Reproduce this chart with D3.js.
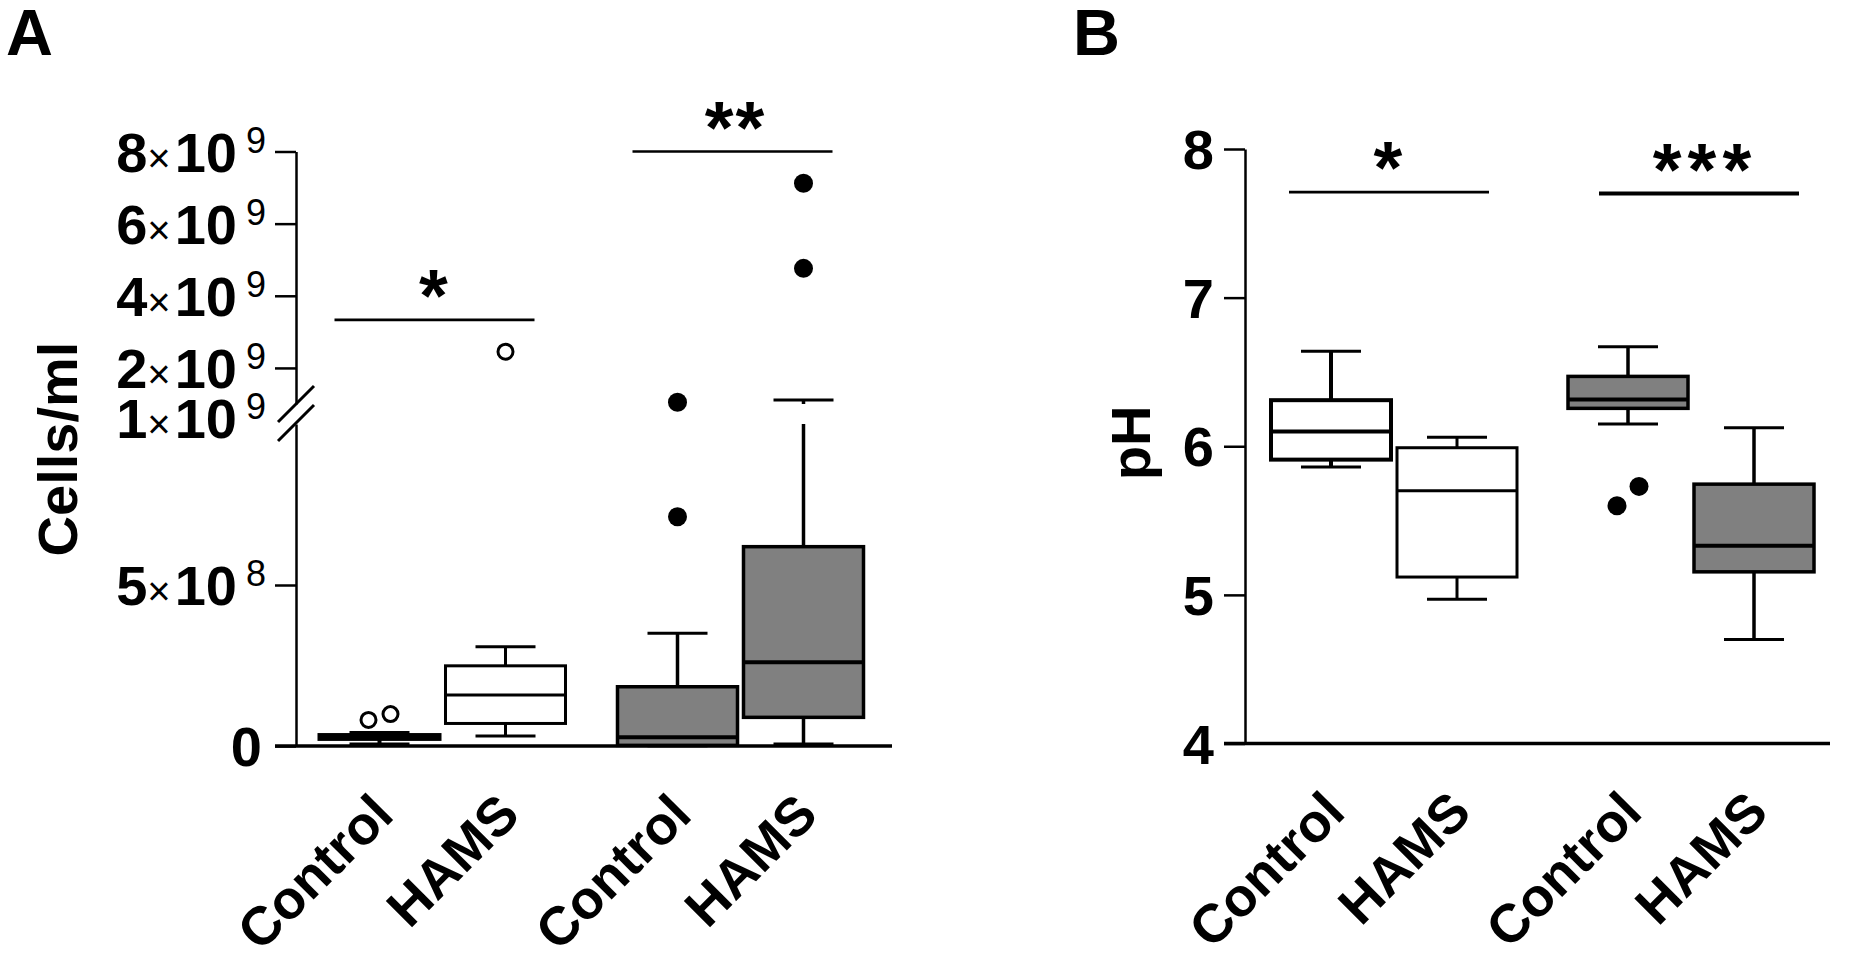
<!DOCTYPE html>
<html>
<head>
<meta charset="utf-8">
<script src="https://cdn.jsdelivr.net/npm/d3@7"></script>
<style>
  body { margin: 0; background: #fff; }
  svg { font-family: "Liberation Sans", Arial, sans-serif; }
</style>
</head>
<body>
<div id="chart"></div>
<script>
const width = 1854
const height = 958

const groups = ["g1", "g2"]
const treatments = ["Control", "HAMS"]

// panel A: cells/ml box summaries
const cellsBoxes = [
  {group: "g1", treatment: "Control", min: 6e6, q1: 2.2e7, median: 2.8e7, q3: 3.4e7, max: 4.2e7},
  {group: "g1", treatment: "HAMS", min: 3.1e7, q1: 7.0e7, median: 1.58e8, q3: 2.49e8, max: 3.08e8},
  {group: "g2", treatment: "Control", min: 1e6, q1: 2e6, median: 2.7e7, q3: 1.84e8, max: 3.5e8},
  {group: "g2", treatment: "HAMS", min: 6e6, q1: 8.9e7, median: 2.6e8, q3: 6.19e8, max: 1.11e9}
]
const cellsOutliers = [
  {group: "g1", treatment: "Control", values: [8.1e7, 9.9e7]},
  {group: "g1", treatment: "HAMS", values: [2.45e9]},
  {group: "g2", treatment: "Control", values: [7.12e8, 1.05e9]},
  {group: "g2", treatment: "HAMS", values: [4.76e9, 7.12e9]}
]
const cellsSig = [
  {group: "g1", label: "*", value: 3.33e9},
  {group: "g2", label: "**", value: 8e9}
]
const cellsBreak = 1e9
const cellsTicksLow = [0, 5e8, 1e9]
const cellsTicksHigh = [2e9, 4e9, 6e9, 8e9]

// panel B: pH box summaries
const phBoxes = [
  {group: "g1", treatment: "Control", min: 5.86, q1: 5.91, median: 6.10, q3: 6.31, max: 6.64},
  {group: "g1", treatment: "HAMS", min: 4.97, q1: 5.12, median: 5.70, q3: 5.99, max: 6.06},
  {group: "g2", treatment: "Control", min: 6.15, q1: 6.255, median: 6.315, q3: 6.47, max: 6.67},
  {group: "g2", treatment: "HAMS", min: 4.70, q1: 5.155, median: 5.33, q3: 5.745, max: 6.125}
]
const phOutliers = [
  {group: "g2", treatment: "Control", values: [5.60, 5.73]}
]
const phSig = [
  {group: "g1", label: "*", value: 7.71},
  {group: "g2", label: "***", value: 7.70}
]
const phTicks = [4, 5, 6, 7, 8]

const groupFill = {g1: "#ffffff", g2: "#808080"}

const svg = d3.select("#chart").append("svg")
  .attr("width", width)
  .attr("height", height)
  .attr("viewBox", [0, 0, width, height])

const inner = d3.scaleBand().domain(treatments).range([-126, 126])
const boxW = 120
const capW = 60
const tickLen = 21
const starSize = 74

// superscript tick label like 8×10^9
function sciLabel(sel, v) {
  if (v === 0) { sel.append("tspan").text("0"); return }
  const e = Math.floor(Math.log10(v))
  const m = Math.round(v / Math.pow(10, e))
  sel.append("tspan").text(m)
  sel.append("tspan").attr("font-weight", "normal").attr("font-size", 40).text("\u00d7")
  sel.append("tspan").attr("dx", 4).text("10")
  sel.append("tspan").attr("font-weight", "normal").attr("font-size", 36)
    .attr("dx", 9).attr("dy", -19).text(e)
}

function boxStroke(d) { return d.group === "g1" && d.treatment === "HAMS" ? 3 : (d.group === "g1" ? 4 : 3.5) }

function drawPanel(cfg) {
  const g = svg.append("g")
  const xg = d3.scalePoint().domain(groups).range(cfg.groupRange)
  const xc = d => xg(d.group) + inner(d.treatment) + inner.bandwidth() / 2

  // x axis line (extends left like a tick)
  g.append("line")
    .attr("x1", cfg.axisX - tickLen).attr("x2", cfg.xEnd)
    .attr("y1", cfg.y0).attr("y2", cfg.y0)
    .attr("stroke", "#000").attr("stroke-width", 3.5)

  // boxes
  cfg.boxes.forEach(d => {
    const x = xc(d)
    const sw = boxStroke(d)
    const bg = g.append("g")
    cfg.segments(d.q3, d.max).concat(cfg.segments(d.min, d.q1)).forEach(s => {
      bg.append("line").attr("x1", x).attr("x2", x).attr("y1", s[0]).attr("y2", s[1])
        .attr("stroke", "#000").attr("stroke-width", sw)
    })
    ;[d.min, d.max].forEach(v => {
      bg.append("line").attr("x1", x - capW / 2).attr("x2", x + capW / 2)
        .attr("y1", cfg.y(v)).attr("y2", cfg.y(v))
        .attr("stroke", "#000").attr("stroke-width", 3)
    })
    bg.append("rect")
      .attr("x", x - boxW / 2).attr("width", boxW)
      .attr("y", cfg.y(d.q3)).attr("height", cfg.y(d.q1) - cfg.y(d.q3))
      .attr("fill", groupFill[d.group]).attr("stroke", "#000").attr("stroke-width", sw)
    bg.append("line").attr("x1", x - boxW / 2).attr("x2", x + boxW / 2)
      .attr("y1", cfg.y(d.median)).attr("y2", cfg.y(d.median))
      .attr("stroke", "#000").attr("stroke-width", d.group === "g1" && d.treatment === "HAMS" ? 3 : 4)
  })

  // outliers, spread sideways when they overlap
  cfg.outliers.forEach(o => {
    const x = xc(o)
    const open = o.group === "g1"
    const r = open ? 7.5 : 9.5
    const pts = o.values.slice().sort((a, b) => a - b).map(v => ({v, y: cfg.y(v)}))
    let clusters = []
    pts.forEach(p => {
      const last = clusters[clusters.length - 1]
      if (last && Math.abs(last[last.length - 1].y - p.y) < 2 * r + 4) last.push(p)
      else clusters.push([p])
    })
    clusters.forEach(c => c.forEach((p, i) => {
      g.append("circle")
        .attr("cx", x + (i - (c.length - 1) / 2) * 22).attr("cy", p.y).attr("r", r)
        .attr("fill", open ? "#fff" : "#000")
        .attr("stroke", "#000").attr("stroke-width", open ? 3 : 0)
    }))
  })

  // significance bars
  cfg.sig.forEach((s, i) => {
    const cx = xg(s.group) + cfg.sigShift[i]
    const y = cfg.y(s.value)
    g.append("line").attr("x1", cx - 100).attr("x2", cx + 100).attr("y1", y).attr("y2", y)
      .attr("stroke", "#000").attr("stroke-width", s.label.length > 2 ? 4 : 2.7)
    g.append("text").attr("x", cx + (s.label.length - 1) * 3).attr("y", y - 41 + 0.57 * starSize)
      .attr("text-anchor", "middle").attr("font-size", starSize).attr("font-weight", "bold")
      .attr("letter-spacing", s.label.length > 2 ? 6 : 2)
      .text(s.label)
  })

  // x labels
  cfg.boxes.forEach(d => {
    g.append("text")
      .attr("transform", `translate(${xc(d) + 3},${cfg.y0 + 58}) rotate(-45)`)
      .attr("text-anchor", "end").attr("dy", "0.35em")
      .attr("font-size", 54).attr("font-weight", "bold")
      .text(d.treatment)
  })

  // panel letter
  svg.append("text").attr("x", cfg.letterX).attr("y", 55)
    .attr("font-size", 65).attr("font-weight", "bold").text(cfg.letter)

  // y title
  svg.append("text")
    .attr("transform", `translate(${cfg.titleX},${cfg.titleY}) rotate(-90)`)
    .attr("text-anchor", "middle").attr("font-size", 56).attr("font-weight", "bold")
    .text(cfg.title)
  return g
}

function styleAxis(ax) {
  ax.select(".domain").attr("stroke", "#000").attr("stroke-width", 2.5)
  ax.selectAll(".tick line").attr("stroke", "#000").attr("stroke-width", 2.5)
  ax.selectAll(".tick text").remove()
}

// ---------- panel A ----------
const aX = 296
const yLow = d3.scaleLinear().domain([0, cellsBreak]).range([746, 424])
const yHigh = d3.scaleLinear().domain([cellsBreak, 8e9]).range([404, 151.5])
const yA = v => v > cellsBreak ? yHigh(v) : yLow(v)
const segA = (a, b) => (a < cellsBreak && b > cellsBreak)
  ? [[yLow(a), yLow(cellsBreak)], [yHigh(cellsBreak), yHigh(b)]]
  : [[yA(a), yA(b)]]

const axLow = svg.append("g").attr("transform", `translate(${aX},0)`)
  .call(d3.axisLeft(yLow).tickValues(cellsTicksLow).tickSize(tickLen).tickSizeOuter(0))
const axHigh = svg.append("g").attr("transform", `translate(${aX},0)`)
  .call(d3.axisLeft(yHigh).tickValues(cellsTicksHigh).tickSize(tickLen).tickSizeOuter(0))
styleAxis(axLow)
styleAxis(axHigh)
axLow.selectAll(".tick").filter(d => d === cellsBreak).select("line").remove()

;[[cellsTicksLow, yLow], [cellsTicksHigh, yHigh]].forEach(([ticks, sc]) => {
  ticks.forEach(v => {
    const t = svg.append("text")
      .attr("x", v === 0 ? aX - 34 : aX - 30)
      .attr("y", sc(v) + (v === cellsBreak ? 14 : 20))
      .attr("text-anchor", "end").attr("font-size", 56).attr("font-weight", "bold")
    sciLabel(t, v)
  })
})

// axis break marks
;[yHigh(cellsBreak), yLow(cellsBreak) - 1].forEach(y => {
  svg.append("line").attr("x1", aX - 18).attr("x2", aX + 18)
    .attr("y1", y + 18).attr("y2", y - 18)
    .attr("stroke", "#000").attr("stroke-width", 3)
})

drawPanel({
  letter: "A", letterX: 6,
  title: "Cells/ml", titleX: 77, titleY: 449,
  axisX: aX, xEnd: 892, y0: yLow(0),
  groupRange: [442.5, 740.5], sigShift: [-8, -8],
  y: yA, segments: segA,
  boxes: cellsBoxes, outliers: cellsOutliers, sig: cellsSig
})

// ---------- panel B ----------
const bX = 1245
const yB = d3.scaleLinear().domain([4, 8]).range([743.5, 149])
const axB = svg.append("g").attr("transform", `translate(${bX},0)`)
  .call(d3.axisLeft(yB).tickValues(phTicks).tickSize(tickLen).tickSizeOuter(0))
styleAxis(axB)
phTicks.forEach(v => {
  svg.append("text").attr("x", bX - 31).attr("y", yB(v) + 20)
    .attr("text-anchor", "end").attr("font-size", 56).attr("font-weight", "bold")
    .text(v)
})

drawPanel({
  letter: "B", letterX: 1073,
  title: "pH", titleX: 1150, titleY: 443,
  axisX: bX, xEnd: 1830, y0: yB(4),
  groupRange: [1394, 1691], sigShift: [-5, 8],
  y: yB, segments: (a, b) => [[yB(a), yB(b)]],
  boxes: phBoxes, outliers: phOutliers, sig: phSig
})
</script>
</body>
</html>
